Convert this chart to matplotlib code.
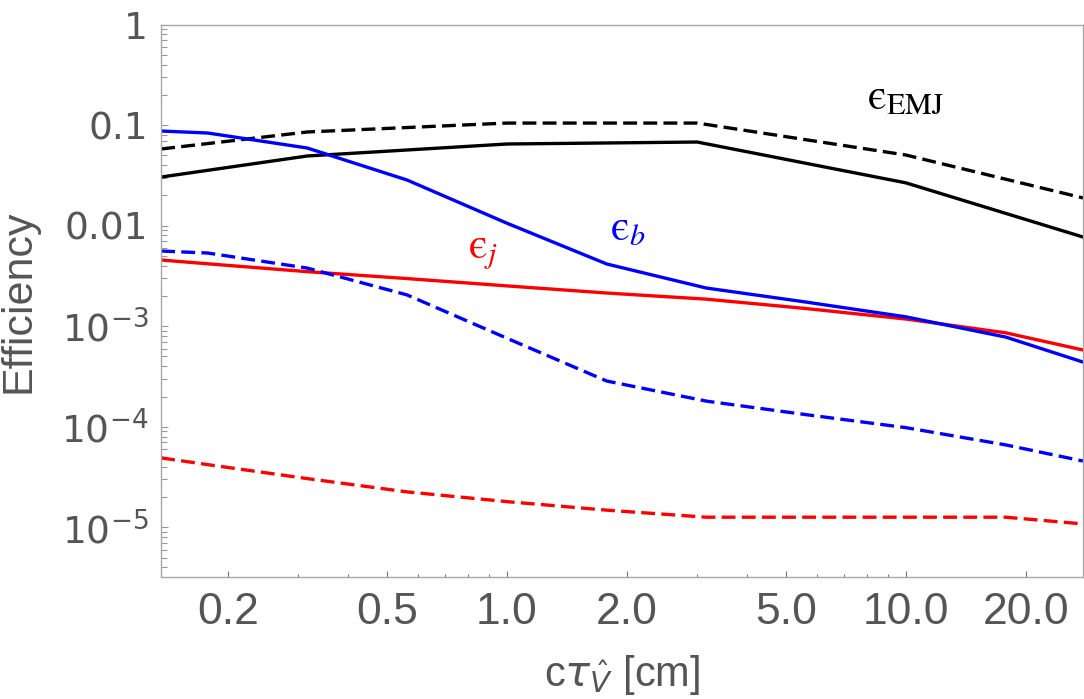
import matplotlib
matplotlib.use('Agg')
import matplotlib.pyplot as plt
from matplotlib.ticker import FixedLocator, FixedFormatter, LogLocator, NullFormatter

# ---- data ----
ctau = [0.136, 0.178, 0.316, 0.562, 1.0, 1.78, 3.16, 5.62, 10.0, 17.8, 27.8]
eff_b_solid  = [0.0875, 0.0836, 0.0593, 0.0285, 0.0106, 0.00416, 0.0024, 0.00174, 0.00124, 0.00078, 0.00044]
eff_b_dashed = [0.0056, 0.00535, 0.00379, 0.00205, 0.00076, 0.000285, 0.00018, 0.000132, 9.8e-5, 6.6e-5, 4.56e-5]
eff_j_solid  = [0.00456, 0.00418, 0.00349, 0.00298, 0.00252, 0.00214, 0.00186, 0.0015, 0.00118, 0.00086, 0.00058]
eff_j_dashed = [4.9e-5, 4.2e-5, 3.05e-5, 2.25e-5, 1.8e-5, 1.48e-5, 1.26e-5, 1.26e-5, 1.26e-5, 1.26e-5, 1.08e-5]

ctau_emj = [0.136, 0.316, 1.0, 3.0, 10.0, 27.8]
eff_emj_solid  = [0.0305, 0.0494, 0.065, 0.068, 0.0267, 0.00772]
eff_emj_dashed = [0.058, 0.0856, 0.105, 0.105, 0.0505, 0.0189]

x_major = [0.2, 0.5, 1.0, 2.0, 5.0, 10.0, 20.0]
x_labels = ['0.2', '0.5', '1.0', '2.0', '5.0', '10.0', '20.0']
x_minor = [0.3, 0.4, 0.6, 0.7, 0.8, 0.9, 3, 4, 6, 7, 8, 9]
y_major = [1e-5, 1e-4, 1e-3, 1e-2, 1e-1, 1]
y_labels = [r'$10^{-5}$', r'$10^{-4}$', r'$10^{-3}$', '0.01', '0.1', '1']

# ---- figure ----
plt.rcParams['lines.scale_dashes'] = False
fig = plt.figure(figsize=(10.84, 6.99), dpi=100)
ax = fig.add_axes([0.1482, 0.1745, 0.8509, 0.7902])

dash = (0, (10, 4.5))
lw = 2.4
ax.plot(ctau_emj, eff_emj_dashed, color='black', lw=lw, linestyle=dash)
ax.plot(ctau_emj, eff_emj_solid, color='black', lw=lw)
ax.plot(ctau, eff_j_solid, color='red', lw=lw)
ax.plot(ctau, eff_j_dashed, color='red', lw=lw, linestyle=dash)
ax.plot(ctau, eff_b_dashed, color='blue', lw=lw, linestyle=dash)
ax.plot(ctau, eff_b_solid, color='blue', lw=lw)

ax.set_xscale('log')
ax.set_yscale('log')
ax.set_xlim(0.1356, 27.8)
ax.set_ylim(3.2e-6, 1)

# ticks
grey = '#555555'
ax.xaxis.set_major_locator(FixedLocator(x_major))
ax.xaxis.set_major_formatter(FixedFormatter(x_labels))
ax.xaxis.set_minor_locator(FixedLocator(x_minor))
ax.xaxis.set_minor_formatter(NullFormatter())
ax.yaxis.set_major_locator(FixedLocator(y_major))
ax.yaxis.set_major_formatter(FixedFormatter(y_labels))
ax.yaxis.set_minor_locator(LogLocator(base=10, subs=range(2, 10), numticks=20))
ax.yaxis.set_minor_formatter(NullFormatter())

ax.tick_params(axis='x', which='major', direction='in', length=4.5, width=0.8,
               color='#777777', labelcolor=grey, labelsize=32, pad=11)
ax.tick_params(axis='x', which='minor', direction='in', length=2.2, width=0.8,
               color='#777777')
ax.tick_params(axis='y', which='major', direction='in', length=5, width=0.8,
               color='#999999', labelcolor=grey, labelsize=27, pad=9)
ax.tick_params(axis='y', which='minor', direction='in', length=4, width=0.8,
               color='#999999')
for lab in ax.get_xticklabels():
    lab.set_family('Liberation Sans')
for lab in ax.get_yticklabels():
    lab.set_family('DejaVu Sans')

for spine in ax.spines.values():
    spine.set_color('#a8a8a8')
    spine.set_linewidth(1.0)

ax.set_xlabel(r'c$\tau_{\hat{V}}$ [cm]', fontsize=30, color=grey,
              family='Liberation Sans', labelpad=14)
ax.set_ylabel('Efficiency', fontsize=31, color=grey,
              family='Liberation Sans', labelpad=16)

# curve labels (upright lunate epsilon)
ax.text(0.798, 0.00477, '$\\mathrm{\u03f5}_j$', color='red', fontsize=31,
        math_fontfamily='stix', ha='left', va='baseline')
ax.text(1.81, 0.00721, '$\\mathrm{\u03f5}_b$', color='blue', fontsize=31,
        math_fontfamily='stix', ha='left', va='baseline')
ax.text(7.98, 0.148, '$\\mathrm{\u03f5}_{\\mathrm{EMJ}}$', color='black', fontsize=31,
        math_fontfamily='stix', ha='left', va='baseline')

fig.savefig('out.png', dpi=100)
